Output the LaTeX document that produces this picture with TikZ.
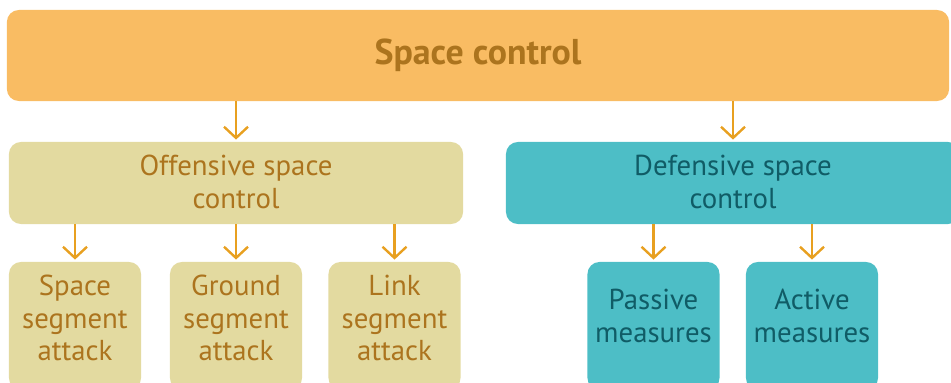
\documentclass[tikz,border=0pt]{standalone}
\usepackage{fontspec}
\setmainfont{PT Sans}
\usetikzlibrary{arrows.meta}
\definecolor{topfill}{RGB}{249,188,99}
\definecolor{goldtext}{RGB}{172,116,30}
\definecolor{offfill}{RGB}{227,218,160}
\definecolor{deffill}{RGB}{77,190,198}
\definecolor{deftext}{RGB}{16,92,102}
\definecolor{arrowcol}{RGB}{232,160,32}
\begin{document}
\begin{tikzpicture}[x=0.025cm,y=-0.025cm,
  box/.style={rounded corners=0.3cm, inner sep=0pt, align=center},
  label/.style={inner sep=0pt, align=center, font=\fontsize{20.5}{23}\selectfont},
  topbox/.style={box, fill=topfill, text=goldtext, font=\bfseries\fontsize{25.5}{28}\selectfont,
    minimum width=23.55cm, minimum height=2.275cm},
  offbox/.style={box, fill=offfill},
  defbox/.style={box, fill=deffill},
  wide/.style={minimum width=11.35cm, minimum height=2.05cm},
  small/.style={minimum width=3.3cm, minimum height=3.2cm},
  arr/.style={draw=arrowcol, line width=1.7pt, shorten >=1.5pt,
    -{Straight Barb[length=0.28cm,width=0.6cm]}}
]
  \useasboundingbox (0,0) rectangle (951,382);
  \clip (0,0) rectangle (951,382);

  %%% top
  \node[topbox] (top) at (478,55.5) {Space control};

  %%% second row
  \node[offbox,wide] (off) at (236,183) {};
  \node[label,text=goldtext] (offt) at (236,182) {Offensive space\\control};
  \node[defbox,wide] (def) at (733,183) {};
  \node[label,text=deftext] (deft) at (733,182) {Defensive space\\control};

  %%% offensive children
  \node[offbox,small] (ssa) at (75,326) {};
  \node[label,text=goldtext] (ssat) at (75,318) {Space\\segment\\attack};
  \node[offbox,small] (gsa) at (236,326) {};
  \node[label,text=goldtext] (gsat) at (236,318) {Ground\\segment\\attack};
  \node[offbox,small] (lsa) at (394.5,326) {};
  \node[label,text=goldtext] (lsat) at (394.5,318) {Link\\segment\\attack};

  %%% defensive children
  \node[defbox,small] (pm) at (653.5,326) {};
  \node[label,text=deftext] (pmt) at (653.5,316) {Passive\\measures};
  \node[defbox,small] (am) at (812,326) {};
  \node[label,text=deftext] (amt) at (812,316) {Active\\measures};

  %%% arrows
  \draw[arr] (top.south -| off.north) -- (off.north);
  \draw[arr] (top.south -| def.north) -- (def.north);
  \foreach \c in {ssa,gsa,lsa}
    \draw[arr] (off.south -| \c.north) -- (\c.north);
  \foreach \c in {pm,am}
    \draw[arr] (def.south -| \c.north) -- (\c.north);
\end{tikzpicture}
\end{document}
